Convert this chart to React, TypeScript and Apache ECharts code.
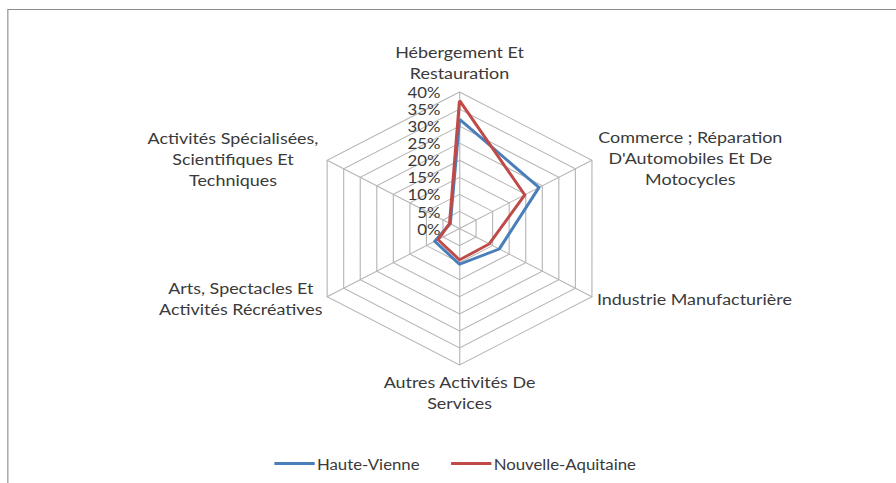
import React, { useEffect, useRef } from "react";
import * as echarts from "echarts";

// The reference picture is horizontally stretched; we draw in an 800px-wide chart and scale it.
const STRETCH = 1.12;
const CHART_W = 800;
const CHART_H = 483;

// Indicators in ECharts order (counter-clockwise from the top)
const indicatorNames = [
  "Hébergement Et Restauration",
  "Activités Spécialisées, Scientifiques Et Techniques",
  "Arts, Spectacles Et Activités Récréatives",
  "Autres Activités De Services",
  "Industrie Manufacturière",
  "Commerce ; Réparation D'Automobiles Et De Motocycles",
];
const nameLines: string[][] = [
  ["Hébergement Et", "Restauration"],
  ["Activités Spécialisées,", "Scientifiques Et", "Techniques"],
  ["Arts, Spectacles Et", "Activités Récréatives"],
  ["Autres Activités De", "Services"],
  ["Industrie Manufacturière"],
  ["Commerce ; Réparation", "D'Automobiles Et De", "Motocycles"],
];
const nameBoxWidths = [0, 163, 149, 0, 0, 167];
const nameGaps = [9, 3, 3, 6, 5, 5];

const seriesNames = ["Haute-Vienne", "Nouvelle-Aquitaine"];
const hauteVienne = [32, 2.8, 7.5, 10.5, 12, 24];
const nouvelleAquitaine = [37.5, 3, 6.5, 9.2, 9, 19.7];
const seriesColors = ["#4a7ebb", "#be4b48"];

const axisMin = 0;
const axisMax = 40;
const axisSplits = 8;

const FONT = "Lato";
const TEXT_COLOR = "#3a3a3a";
const GRID_COLOR = "#b5b5b5";

export default function App() {
  const ref = useRef<HTMLDivElement>(null);

  useEffect(() => {
    if (!ref.current) return;
    const chart = echarts.init(ref.current, null, {
      renderer: "svg",
      width: CHART_W,
      height: CHART_H,
    });
    const rich: Record<string, any> = {};
    nameBoxWidths.forEach((w, i) => {
      const st: any = {
        align: "center",
        fontSize: 16,
        lineHeight: 21,
        fontFamily: FONT,
        color: TEXT_COLOR,
      };
      if (w) st.width = w;
      rich["n" + i] = st;
    });

    chart.setOption({
      animation: false,
      graphic: [
        {
          type: "rect",
          silent: true,
          shape: { x: 7, y: 9.5, width: 900, height: 600 },
          style: { fill: "none", stroke: "#8c8c8c", lineWidth: 1 },
        },
      ],
      legend: {
        data: seriesNames,
        left: 240,
        top: 451,
        icon: "rect",
        itemWidth: 36,
        itemHeight: 3,
        itemGap: 28,
        textStyle: { fontFamily: FONT, fontSize: 15, color: TEXT_COLOR, padding: [0, 0, 0, -3] },
      },
      radar: {
        center: [410.3, 228.5],
        radius: 136.5,
        startAngle: 90,
        splitNumber: axisSplits,
        shape: "polygon",
        nameGap: 5,
        axisName: {
          color: TEXT_COLOR,
          fontFamily: FONT,
          fontSize: 16,
          lineHeight: 21,
          rich,
          formatter: (name: string) => {
            const i = indicatorNames.indexOf(name);
            return nameLines[i].map((l) => `{n${i}|${l}}`).join("\n");
          },
        },
        axisLine: { lineStyle: { color: GRID_COLOR, width: 1 } },
        splitLine: { lineStyle: { color: GRID_COLOR, width: 1 } },
        splitArea: { show: false },
        axisTick: { show: false },
        axisLabel: { show: false },
        indicator: indicatorNames.map((n, i) => {
          const ind: any = { name: n, min: axisMin, max: axisMax, nameGap: nameGaps[i] };
          if (i === 0) {
            ind.axisLabel = {
              show: true,
              formatter: (v: number) => v + "%",
              fontFamily: FONT,
              fontSize: 15,
              lineHeight: 15,
              color: TEXT_COLOR,
              margin: 17,
            };
          }
          return ind;
        }),
      },
      series: [
        {
          type: "radar",
          symbol: "none",
          data: [
            {
              name: seriesNames[0],
              value: hauteVienne,
              lineStyle: { color: seriesColors[0], width: 2.8 },
              itemStyle: { color: seriesColors[0] },
            },
            {
              name: seriesNames[1],
              value: nouvelleAquitaine,
              lineStyle: { color: seriesColors[1], width: 2.8 },
              itemStyle: { color: seriesColors[1] },
            },
          ],
        },
      ],
    });
    return () => chart.dispose();
  }, []);

  return (
    <div
      style={{
        position: "absolute",
        left: 0,
        top: 0,
        width: 896,
        height: 483,
        overflow: "hidden",
        background: "#fff",
      }}
    >
      <div
        ref={ref}
        style={{
          width: CHART_W,
          height: CHART_H,
          transform: `scaleX(${STRETCH})`,
          transformOrigin: "0 0",
        }}
      />
    </div>
  );
}
